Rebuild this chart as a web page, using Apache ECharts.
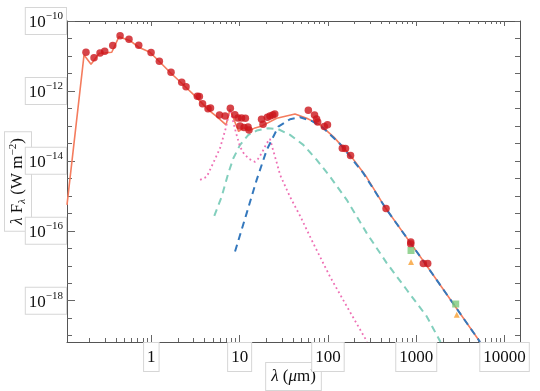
<!DOCTYPE html>
<html>
<head>
<meta charset="utf-8">
<script src="https://cdn.jsdelivr.net/npm/echarts@6/dist/echarts.min.js"></script>
<style>
  html, body { margin: 0; padding: 0; background: #fff; }
  #main { width: 540px; height: 391px; }
</style>
</head>
<body>
<div id="main"></div>
<script>
// all values are log10 (lambda in um, lambda*F_lambda in W m^-2)
const obsLogLam = [-0.740, -0.649, -0.581, -0.528, -0.437, -0.354, -0.253, -0.143, -0.003, 0.091,
  0.223, 0.344, 0.393, 0.521, 0.544, 0.580, 0.642, 0.670, 0.772, 0.835,
  0.895, 0.946, 0.982, 1.022, 1.065, 1.005, 1.050, 1.095, 1.106, 1.248,
  1.265, 1.314, 1.344, 1.375, 1.398, 1.778, 1.848, 1.871, 1.884, 1.959,
  1.995, 2.163, 2.199, 2.256, 2.658, 2.938, 2.938, 3.080, 3.130];
const obsLogF = [-10.894, -11.049, -10.914, -10.863, -10.700, -10.420, -10.523, -10.694, -10.900, -11.151,
  -11.466, -11.751, -11.877, -12.151, -12.157, -12.363, -12.506, -12.486, -12.686, -12.714,
  -12.494, -12.680, -12.771, -12.771, -12.780, -13.000, -13.049, -13.029, -13.114, -12.809,
  -12.951, -12.751, -12.714, -12.686, -12.657, -12.549, -12.691, -12.800, -12.886, -13.020,
  -12.966, -13.637, -13.649, -13.843, -15.363, -16.323, -16.380, -16.934, -16.934];

// sub-mm points (green squares, orange triangles)
const sqLogLam = [2.941, 3.447];
const sqLogF = [-16.563, -18.094];
const triLogLam = [2.941, 3.459];
const triLogF = [-16.894, -18.400];

// total model (solid)
const modelLogLam = [-0.955, -0.762, -0.683, -0.589, -0.532, -0.448, -0.366, -0.241, -0.143, -0.015,
  0.099, 0.223, 0.344, 0.514, 0.646, 0.741, 0.846, 0.891, 0.988, 1.050,
  1.106, 1.174, 1.254, 1.420, 1.627, 1.760, 1.911, 2.061, 2.250, 2.439,
  2.658, 2.938, 3.103, 3.723];
const modelLogF = [-15.26, -10.971, -11.237, -10.923, -10.914, -10.894, -10.449, -10.563, -10.751, -10.894,
  -11.180, -11.494, -11.780, -12.191, -12.543, -12.734, -12.971, -12.529, -13.157, -13.057,
  -13.143, -13.057, -13.000, -12.780, -12.657, -12.780, -12.971, -13.306, -13.829, -14.471,
  -15.371, -16.360, -16.943, -19.180];

// cold component (blue dashed)
const coldLogLam = [0.948, 1.080, 1.193, 1.307, 1.438, 1.571, 1.684, 1.817, 1.948, 2.137,
  2.401, 2.658, 2.938, 3.103, 3.723];
const coldLogF = [-16.591, -15.494, -14.543, -13.686, -13.020, -12.809, -12.751, -12.86, -13.06, -13.516,
  -14.351, -15.371, -16.360, -16.943, -19.180];

// warm component (teal dashed)
const warmLogLam = [0.713, 0.797, 0.872, 0.929, 1.005, 1.099, 1.194, 1.325, 1.438, 1.571,
  1.721, 1.873, 2.023, 2.213, 2.439, 2.666, 2.892, 3.119, 3.275];
const warmLogF = [-15.571, -15.020, -14.351, -13.923, -13.543, -13.257, -13.134, -13.066, -13.094, -13.257,
  -13.543, -13.971, -14.449, -15.114, -16.066, -16.923, -17.686, -18.449, -19.180];

// hot component (pink dotted)
const hotLogLam = [0.552, 0.627, 0.702, 0.778, 0.843, 0.891, 0.925, 0.959, 1.005, 1.050,
  1.106, 1.174, 1.209, 1.250, 1.307, 1.344, 1.378, 1.424, 1.458, 1.571,
  1.684, 1.831, 2.024, 2.216, 2.443];
const hotLogF = [-14.543, -14.457, -14.057, -13.637, -13.066, -12.514, -12.857, -13.200, -13.600, -13.800,
  -13.943, -14.029, -13.943, -13.780, -13.494, -13.371, -13.686, -14.086, -14.400, -15.029,
  -15.571, -16.343, -17.314, -18.171, -19.171];

// ticks
const xTickPos = [0, 1, 2, 3, 4];
const xTickLabels = ['1', '10', '100', '1000', '10000'];
const yTickPos = [-18, -16, -14, -12, -10];
const yTickLabels = ['\u221218', '\u221216', '\u221214', '\u221212', '\u221210'];

const xMin = -0.955, xMax = 4.175;
const yMin = -19.18, yMax = -10;

const serif = 'Liberation Serif';
const pairs = (xs, ys) => xs.map((x, i) => [x, ys[i]]);

// minor ticks: 2..9 in each decade on x, every half decade on y
const xMinor = [];
for (let d = -1; d <= 4; d++) {
  for (let k = 2; k <= 9; k++) {
    const v = d + Math.log10(k);
    if (v > xMin && v < xMax) xMinor.push(v);
  }
}
const yHalf = [];
for (let v = -19; v <= -10; v += 0.5) yHalf.push(v);
const yMinor = yHalf.filter(v => yTickPos.indexOf(v) < 0);

const frameLine = { show: true, onZero: false, lineStyle: { color: '#555', width: 1 } };
const tickColor = { color: '#666', width: 1 };
const boxStyle = {
  fontFamily: serif, fontSize: 17, color: '#111',
  backgroundColor: '#fff', borderColor: '#d6d6d6', borderWidth: 1
};

function tickAxis(position, values, len, withLine) {
  return {
    type: 'value', position: position,
    min: position === 'left' || position === 'right' ? yMin : xMin,
    max: position === 'left' || position === 'right' ? yMax : xMax,
    axisLine: withLine ? frameLine : { show: false, onZero: false },
    axisTick: { show: true, inside: true, length: len, customValues: values, lineStyle: tickColor },
    axisLabel: { show: false },
    splitLine: { show: false }
  };
}

const chart = echarts.init(document.getElementById('main'));

const xAxes = [
  {
    type: 'value', position: 'bottom', min: xMin, max: xMax,
    axisLine: frameLine,
    axisTick: { show: true, inside: true, length: 7, customValues: xTickPos, lineStyle: tickColor },
    axisLabel: Object.assign({
      show: true, customValues: xTickPos, margin: 1,
      padding: [5, 3, 3, 3], lineHeight: 20,
      formatter: v => xTickLabels[xTickPos.indexOf(Math.round(v))]
    }, boxStyle),
    splitLine: { show: false },
    name: '{i|\u03bb} ({i|\u03bc}m)',
    nameLocation: 'middle', nameGap: 21, nameMoveOverlap: false,
    nameTextStyle: Object.assign({
      padding: [4, 5, 3, 5], lineHeight: 20,
      rich: { i: { fontFamily: serif, fontSize: 17, fontStyle: 'italic', color: '#111', lineHeight: 20 } }
    }, boxStyle)
  },
  tickAxis('top', xTickPos, 5, true),
  tickAxis('bottom', xMinor, 4, false),
  tickAxis('top', xMinor, 3, false)
];

const yAxes = [
  {
    type: 'value', position: 'left', min: yMin, max: yMax,
    axisLine: frameLine,
    axisTick: { show: true, inside: true, length: 8, customValues: yTickPos, lineStyle: tickColor },
    axisLabel: Object.assign({
      show: true, customValues: yTickPos, margin: 1,
      padding: [3, 3, 3, 3],
      formatter: v => '{b|10}{s|' + yTickLabels[yTickPos.indexOf(Math.round(v))] + '}',
      rich: {
        b: { fontFamily: serif, fontSize: 17, color: '#111', lineHeight: 20, verticalAlign: 'bottom' },
        s: { fontFamily: serif, fontSize: 11, color: '#111', lineHeight: 11, verticalAlign: 'top' }
      }
    }, boxStyle),
    splitLine: { show: false },
    name: '{i|\u03bb} F{sub|\u03bb} (W m{sup|\u22122})',
    nameLocation: 'middle', nameRotate: 90, nameGap: 36, nameMoveOverlap: false,
    nameTextStyle: Object.assign({
      padding: [3, 6, 3, 6], lineHeight: 20,
      rich: {
        i: { fontFamily: serif, fontSize: 17, color: '#111', lineHeight: 20, fontStyle: 'italic' },
        sub: { fontFamily: serif, fontSize: 11, color: '#111', lineHeight: 10, verticalAlign: 'bottom', fontStyle: 'italic' },
        sup: { fontFamily: serif, fontSize: 11, color: '#111', lineHeight: 10, verticalAlign: 'top' }
      }
    }, boxStyle)
  },
  tickAxis('left', yMinor, 5, false),
  tickAxis('right', yHalf, 5, true)
];

const option = {
  animation: false,
  backgroundColor: '#fff',
  grid: { left: 67, right: 20, top: 21, bottom: 49, containLabel: false, outerBoundsMode: 'none' },
  xAxis: xAxes,
  yAxis: yAxes,
  series: [
    {
      name: 'total', type: 'line', data: pairs(modelLogLam, modelLogF),
      symbol: 'none', lineStyle: { color: '#f47c5e', width: 1.6 }, z: 2
    },
    {
      name: 'warm', type: 'line', data: pairs(warmLogLam, warmLogF),
      symbol: 'none', lineStyle: { color: '#82cfbd', width: 2, type: [7, 5] }, z: 2
    },
    {
      name: 'hot', type: 'line', data: pairs(hotLogLam, hotLogF),
      symbol: 'none', lineStyle: { color: '#ee6fb4', width: 1.8, type: [1.8, 3] }, z: 2
    },
    {
      name: 'cold', type: 'line', data: pairs(coldLogLam, coldLogF),
      symbol: 'none', lineStyle: { color: '#3478bd', width: 2, type: [7, 5] }, z: 3
    },
    {
      name: 'obs', type: 'scatter', data: pairs(obsLogLam, obsLogF),
      symbol: 'circle', symbolSize: 7.5,
      itemStyle: { color: '#cc151c' }, z: 4
    },
    {
      name: 'sq', type: 'scatter', data: pairs(sqLogLam, sqLogF),
      symbol: 'rect', symbolSize: 7,
      itemStyle: { color: '#7cc97a' }, z: 4
    },
    {
      name: 'tri', type: 'scatter', data: pairs(triLogLam, triLogF),
      symbol: 'triangle', symbolSize: 6,
      itemStyle: { color: '#f7a035' }, z: 4
    }
  ]
};

chart.setOption(option);
</script>
</body>
</html>
